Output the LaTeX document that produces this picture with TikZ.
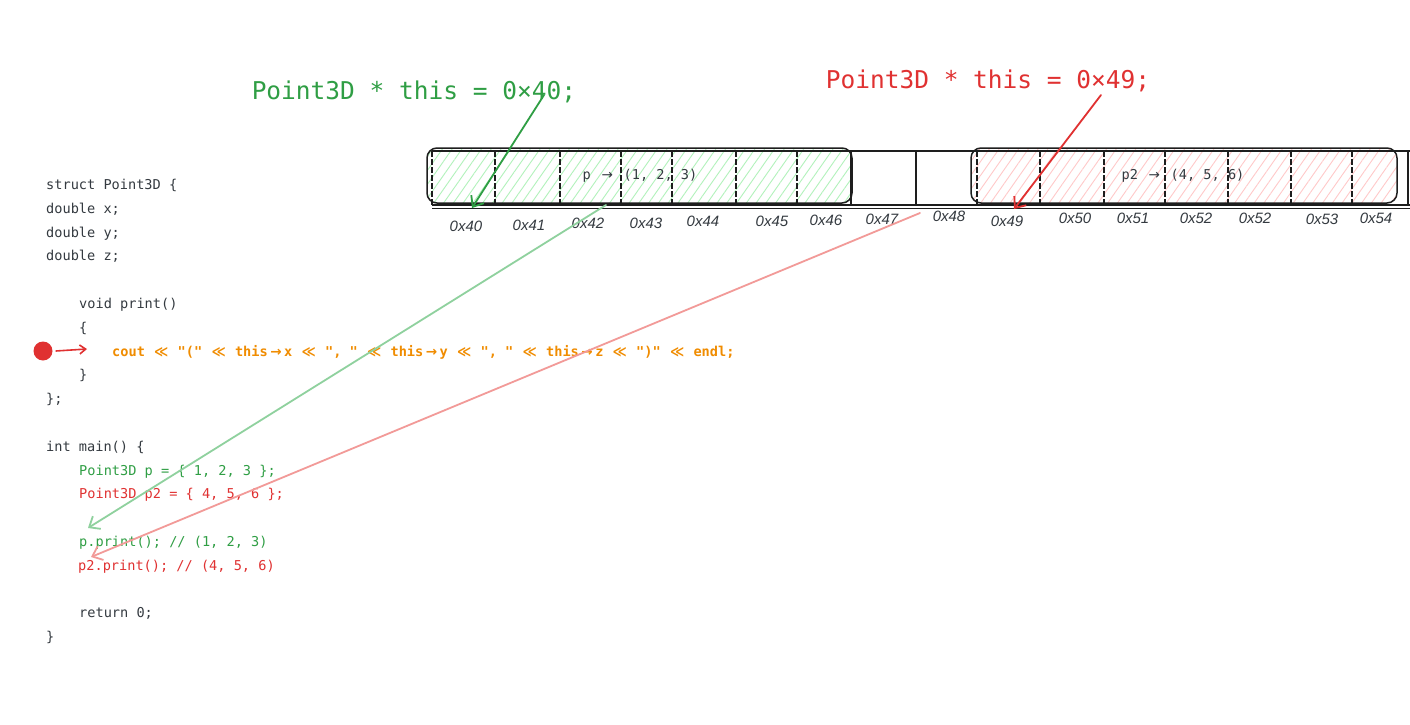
\documentclass[tikz,border=0pt]{standalone}
\usepackage{fontspec}
\setmonofont{DejaVu Sans Mono}
\setsansfont{Liberation Sans}
\newfontfamily\symfont{DejaVu Sans}
\usetikzlibrary{arrows.meta,patterns.meta}

\definecolor{codegray}{HTML}{343a40}
\definecolor{linegray}{HTML}{1e1e1e}
\definecolor{exgreen}{HTML}{2f9e44}
\definecolor{exred}{HTML}{e03131}
\definecolor{exorange}{HTML}{f08c00}
\definecolor{lgreen}{HTML}{8fd19e}
\definecolor{lred}{HTML}{f29a98}
\definecolor{hgreen}{HTML}{b2f2bb}
\definecolor{hred}{HTML}{ffc9c9}
\newcommand\twocell[1]{\makebox[1.204em]{{\symfont #1}}}

\tikzset{
  code/.style={anchor=base west, inner sep=0pt, text=codegray,
    font=\ttfamily\fontsize{13.6}{16}\selectfont},
  addr/.style={inner sep=0pt, text=codegray,
    font=\sffamily\itshape\fontsize{15}{16}\selectfont},
  ptrtitle/.style={inner sep=0pt, font=\ttfamily\fontsize{24.5}{28}\selectfont},
  barb/.style={-{Straight Barb[length=9pt,width=15pt]}, line cap=round},
  cellline/.style={line width=1.5pt, linegray},
}

\begin{document}
\begin{tikzpicture}[x=1pt, y=-1pt]
  \useasboundingbox[fill=white] (0,0) rectangle (1410,725);

  % memory strip
  \fill[pattern={Lines[angle=55,distance=8pt,line width=0.9pt]}, pattern color=hgreen]
    (427,148) [rounded corners=10pt] rectangle (852,203);
  \fill[pattern={Lines[angle=55,distance=8pt,line width=0.9pt]}, pattern color=hred]
    (971,148) [rounded corners=10pt] rectangle (1397,203);
  \draw[cellline] (432,151) -- (1410,151);
  \draw[cellline] (432,205) -- (1410,205);
  \draw[line width=0.8pt, linegray] (432,208) -- (1410,208);
  \foreach \x in {432,495,560,621,672,736,797,977,1040,1104,1165,1228,1291,1352}
    \draw[cellline, dash pattern=on 6pt off 2pt] (\x,151) -- (\x,205);
  \foreach \x in {851,916,1408}
    \draw[cellline] (\x,151) -- (\x,205);
  \draw[cellline, rounded corners=10pt] (427,148) rectangle (852,203);
  \draw[cellline, rounded corners=10pt] (971,148) rectangle (1397,203);

  \node[code, anchor=center] (pval) at (640,176) {p \twocell{→} (1, 2, 3)};
  \node[code, anchor=center] (p2val) at (1183,176) {p2 \twocell{→} (4, 5, 6)};

  \foreach \x/\y/\t [count=\i] in {466/226/0x40, 529/225/0x41, 588/223/0x42,
      646/223/0x43, 703/221/0x44, 772/221/0x45, 826/220/0x46, 882/219/0x47,
      949/216/0x48, 1007/221/0x49, 1075/218/0x50, 1133/218/0x51, 1196/218/0x52,
      1255/218/0x52, 1322/219/0x53, 1376/218/0x54}
    \node[addr] (a\i) at (\x,\y) {\t};

  % this pointers
  \node[ptrtitle, text=exgreen] (thisg) at (414,92) {Point3D * this = 0×40;};
  \node[ptrtitle, text=exred] (thisr) at (988,81) {Point3D * this = 0×49;};
  \coordinate (gfrom) at (544,95);
  \coordinate (gto) at (472,208);
  \coordinate (rfrom) at (1101,95);
  \coordinate (rto) at (1014,209);
  \draw[exgreen, line width=1.8pt, barb] (gfrom) -- (gto);
  \draw[exred, line width=1.8pt, barb] (rfrom) -- (rto);

  % code
  \node[code] (l1) at (46,189) {struct Point3D \{};
  \node[code] (l2) at (46,213) {double x;};
  \node[code] (l3) at (46,237) {double y;};
  \node[code] (l4) at (46,260) {double z;};
  \node[code] (l5) at (79,308) {void print()};
  \node[code] (l6) at (79,332) {\{};
  \node[code, text=exorange, font=\ttfamily\bfseries\fontsize{13.6}{16}\selectfont] (l7) at (112,356)
    {cout \twocell{≪} "(" \twocell{≪} this\twocell{→}x \twocell{≪} ", " \twocell{≪} this\twocell{→}y \twocell{≪} ", " \twocell{≪} this\twocell{→}z \twocell{≪} ")" \twocell{≪} endl;};
  \node[code] (l8) at (79,379) {\}};
  \node[code] (l9) at (46,403) {\};};
  \node[code] (l10) at (46,451) {int main() \{};
  \node[code, text=exgreen] (l11) at (79,475) {Point3D p = \{ 1, 2, 3 \};};
  \node[code, text=exred] (l12) at (79,498) {Point3D p2 = \{ 4, 5, 6 \};};
  \node[code, text=exgreen] (l13) at (79,546) {p.print(); // (1, 2, 3)};
  \node[code, text=exred] (l14) at (78,570) {p2.print(); // (4, 5, 6)};
  \node[code] (l15) at (79,617) {return 0;};
  \node[code] (l16) at (46,641) {\}};

  % breakpoint
  \node[circle, fill=exred, minimum size=19pt, inner sep=0pt] (bp) at (43,351) {};
  \coordinate (bpto) at (87,349);
  \draw[exred, line width=1.6pt, -{Straight Barb[length=6pt,width=9pt]}] ([xshift=3pt]bp.east) -- (bpto);

  % calls
  \coordinate (pout) at (606,205);
  \coordinate (pin) at (88,528);
  \coordinate (p2out) at (920,213);
  \coordinate (p2in) at (91,557);
  \draw[lgreen, line width=1.8pt, barb] (pout) -- (pin);
  \draw[lred, line width=1.8pt, barb] (p2out) -- (p2in);
\end{tikzpicture}
\end{document}
